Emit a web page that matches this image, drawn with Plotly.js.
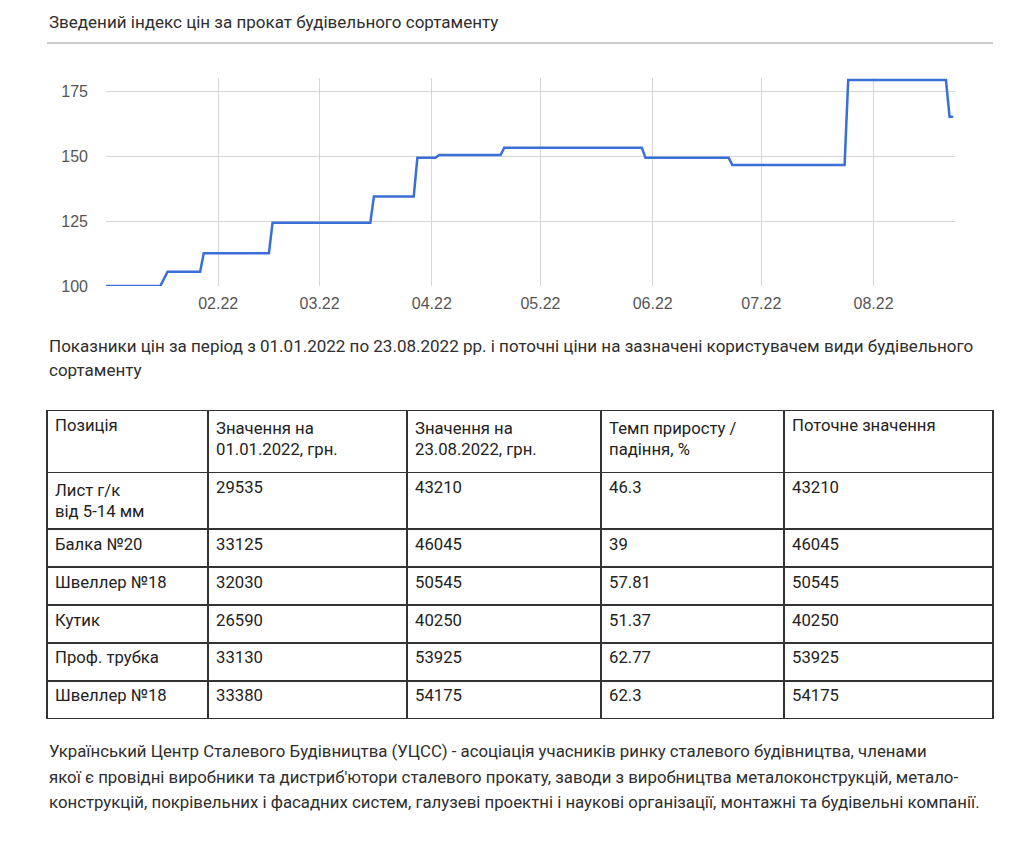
<!DOCTYPE html>
<html>
<head>
<meta charset="utf-8">
<script src="https://cdn.plot.ly/plotly-3.0.1.min.js"></script>
<style>
html,body{margin:0;padding:0;background:#fff;}
#chart{width:1024px;height:867px;}
</style>
</head>
<body>
<div id="chart"></div>
<script>
// ---- line chart data (index of prices) ----
const dates = ['2022-01-01','2022-01-16','2022-01-18','2022-01-27','2022-01-28','2022-02-15','2022-02-16',
  '2022-03-15','2022-03-16','2022-03-27','2022-03-28','2022-04-02','2022-04-03','2022-04-20','2022-04-21',
  '2022-05-29','2022-05-30','2022-06-22','2022-06-23','2022-07-24','2022-07-25','2022-08-21','2022-08-22','2022-08-23'];
const indexValues = [100,100,105.5,105.5,112.6,112.6,124.3,
  124.3,134.4,134.4,149.3,149.3,150.4,150.4,153.2,
  153.2,149.3,149.3,146.5,146.5,179.2,179.2,165.1,165.1];
const tickDates = ['2022-02-01','2022-03-01','2022-04-01','2022-05-01','2022-06-01','2022-07-01','2022-08-01'];
const tickLabels = ['02.22','03.22','04.22','05.22','06.22','07.22','08.22'];
const yTicks = [100,125,150,175];

// ---- table data ----
const headerLabels = ['Позиція','Значення на<br>01.01.2022, грн.','Значення на<br>23.08.2022, грн.','Темп приросту /<br>падіння, %','Поточне значення'];
const positions = ['Лист г/к<br>від 5-14 мм','Балка №20','Швеллер №18','Кутик','Проф. трубка','Швеллер №18'];
const valuesJan = ['29535','33125','32030','26590','33130','33380'];
const valuesAug = ['43210','46045','50545','40250','53925','54175'];
const growthRates = ['46.3','39','57.81','51.37','62.77','62.3'];
const currentValues = ['43210','46045','50545','40250','53925','54175'];

// ---- texts ----
const titleText = 'Зведений індекс цін за прокат будівельного сортаменту';
const introLines = ['Показники цін за період з 01.01.2022 по 23.08.2022 рр. і поточні ціни на зазначені користувачем види будівельного','сортаменту'];
const footerLines = ['Український Центр Сталевого Будівництва (УЦСС) - асоціація учасників ринку сталевого будівництва, членами',
  'якої є провідні виробники та дистриб\'ютори сталевого прокату, заводи з виробництва металоконструкцій, метало-',
  'конструкцій, покрівельних і фасадних систем, галузеві проектні і наукові організації, монтажні та будівельні компанії.'];

const W = 1024, H = 867;
const px = x => x / W;
const py = y => 1 - y / H;
const textFont = {family: 'Roboto, "Noto Sans", sans-serif', size: 16.9, color: '#2e2e2e'};

const annotations = [];
annotations.push({text: titleText, x: px(47), y: py(22), xref:'paper', yref:'paper', xanchor:'left', yanchor:'middle', showarrow:false, font: {...textFont, size: 17}});
introLines.forEach((t, i) => annotations.push({text: t, x: px(47), y: py(346 + i*23.5), xref:'paper', yref:'paper', xanchor:'left', yanchor:'middle', showarrow:false, font: {...textFont, size: 17}}));
footerLines.forEach((t, i) => annotations.push({text: t, x: px(47), y: py(751 + i*25.5), xref:'paper', yref:'paper', xanchor:'left', yanchor:'middle', showarrow:false, font: {...textFont, size: 16.8}}));

const lineTrace = {
  type: 'scatter', mode: 'lines', x: dates, y: indexValues,
  line: {color: '#3a6fd8', width: 2.5, shape: 'linear'},
  xaxis: 'x', yaxis: 'y', hoverinfo: 'skip'
};

const tableFont = {family: 'Roboto, "Noto Sans", sans-serif', size: 16.7, color: '#222'};
const tableTrace = {
  type: 'table',
  domain: {x: [px(47), px(993)], y: [py(720), py(410.5)]},
  columnwidth: [161, 199, 194, 183, 209],
  header: {
    values: headerLabels, align: 'left', height: 62,
    font: tableFont, fill: {color: '#fff'}, line: {color: '#333', width: 1.5}
  },
  cells: {
    values: [positions, valuesJan, valuesAug, growthRates, currentValues],
    align: 'left', height: 37.9,
    font: tableFont, fill: {color: '#fff'}, line: {color: '#333', width: 1.5}
  }
};

const layout = {
  width: W, height: H,
  margin: {l: 0, r: 0, t: 0, b: 0},
  paper_bgcolor: '#fff', plot_bgcolor: '#fff',
  showlegend: false,
  xaxis: {
    domain: [px(106), px(955)],
    type: 'date', range: ['2022-01-01', '2022-08-23 12:00'],
    tickmode: 'array', tickvals: tickDates, ticktext: tickLabels,
    showgrid: true, gridcolor: '#d6d6d6', gridwidth: 1,
    zeroline: false, showline: false, ticks: '',
    ticklabelstandoff: 6,
    tickfont: {family: 'Arial, "Liberation Sans", sans-serif', size: 16, color: '#555'},
    fixedrange: true
  },
  yaxis: {
    domain: [py(286), py(78)],
    range: [100, 180],
    tickmode: 'array', tickvals: yTicks,
    showgrid: true, gridcolor: '#d6d6d6', gridwidth: 1,
    zeroline: false, showline: false, ticks: '',
    ticklabelstandoff: 17,
    tickfont: {family: 'Arial, "Liberation Sans", sans-serif', size: 16, color: '#555'},
    fixedrange: true
  },
  shapes: [{
    type: 'line', xref: 'paper', yref: 'paper',
    x0: px(47), x1: px(993), y0: py(43), y1: py(43),
    line: {color: '#999', width: 1}
  }],
  annotations: annotations
};

Plotly.newPlot('chart', [lineTrace, tableTrace], layout, {staticPlot: true, displayModeBar: false});
</script>
</body>
</html>
